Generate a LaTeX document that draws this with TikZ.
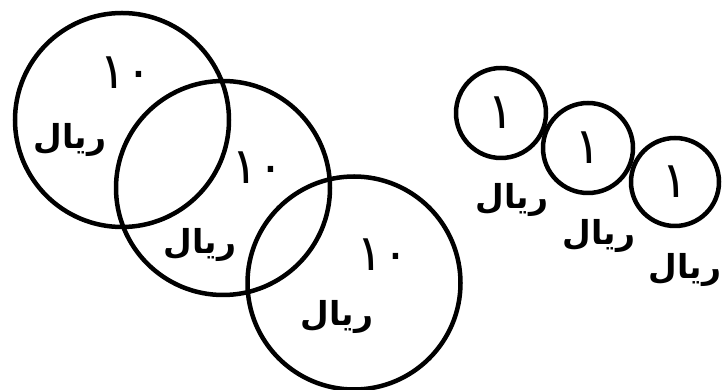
\documentclass[tikz,border=0pt]{standalone}
\usepackage{fontspec}
\usepackage{tikz}
\usetikzlibrary{positioning}
\newfontfamily\arabicfont[Script=Arabic]{DejaVu Sans}
\TeXXeTstate=1

\begin{document}
\begin{tikzpicture}[
            x=1pt, y=1pt,
            every node/.style={font=\arabicfont\bfseries\fontsize{33}{40}\selectfont},
            coin/.style={draw, circle, line width=4.5pt, inner sep=0pt, minimum size=#1},
            lbl/.style={inner sep=0pt},
            num/.style={inner sep=0pt, font=\arabicfont\fontsize{50}{56}\selectfont},
        ]
            \useasboundingbox (0,0) rectangle (728,390);
            % big coins
            \node[coin=214pt] (big1) at (122,270) {};
            \node[coin=214pt] (big2) at (223,202) {};
            \node[coin=213pt] (big3) at (354,107) {};
            \node[num] (ten1) at (126,317) {١٠};
            \node[lbl] (rial1) at (70,250) {\beginR ريال\endR};
            \node[num] (ten2) at (258,222) {١٠};
            \node[lbl] (rial2) at (200,145) {\beginR ريال\endR};
            \node[num] (ten3) at (383,135) {١٠};
            \node[lbl] (rial3) at (337,73) {\beginR ريال\endR};
            % small coins
            \node[coin=90pt] (small1) at (501,277) {};
            \node[coin=90pt] (small2) at (588,242) {};
            \node[coin=88pt] (small3) at (675,208) {};
            \node[num] (one1) at (small1) {١};
            \node[num] (one2) at (small2) {١};
            \node[num] (one3) at (small3) {١};
            \node[lbl] (rialA) at (512,190) {\beginR ريال\endR};
            \node[lbl] (rialB) at (599,154) {\beginR ريال\endR};
            \node[lbl] (rialC) at (685,120) {\beginR ريال\endR};
        \end{tikzpicture}
\end{document}
